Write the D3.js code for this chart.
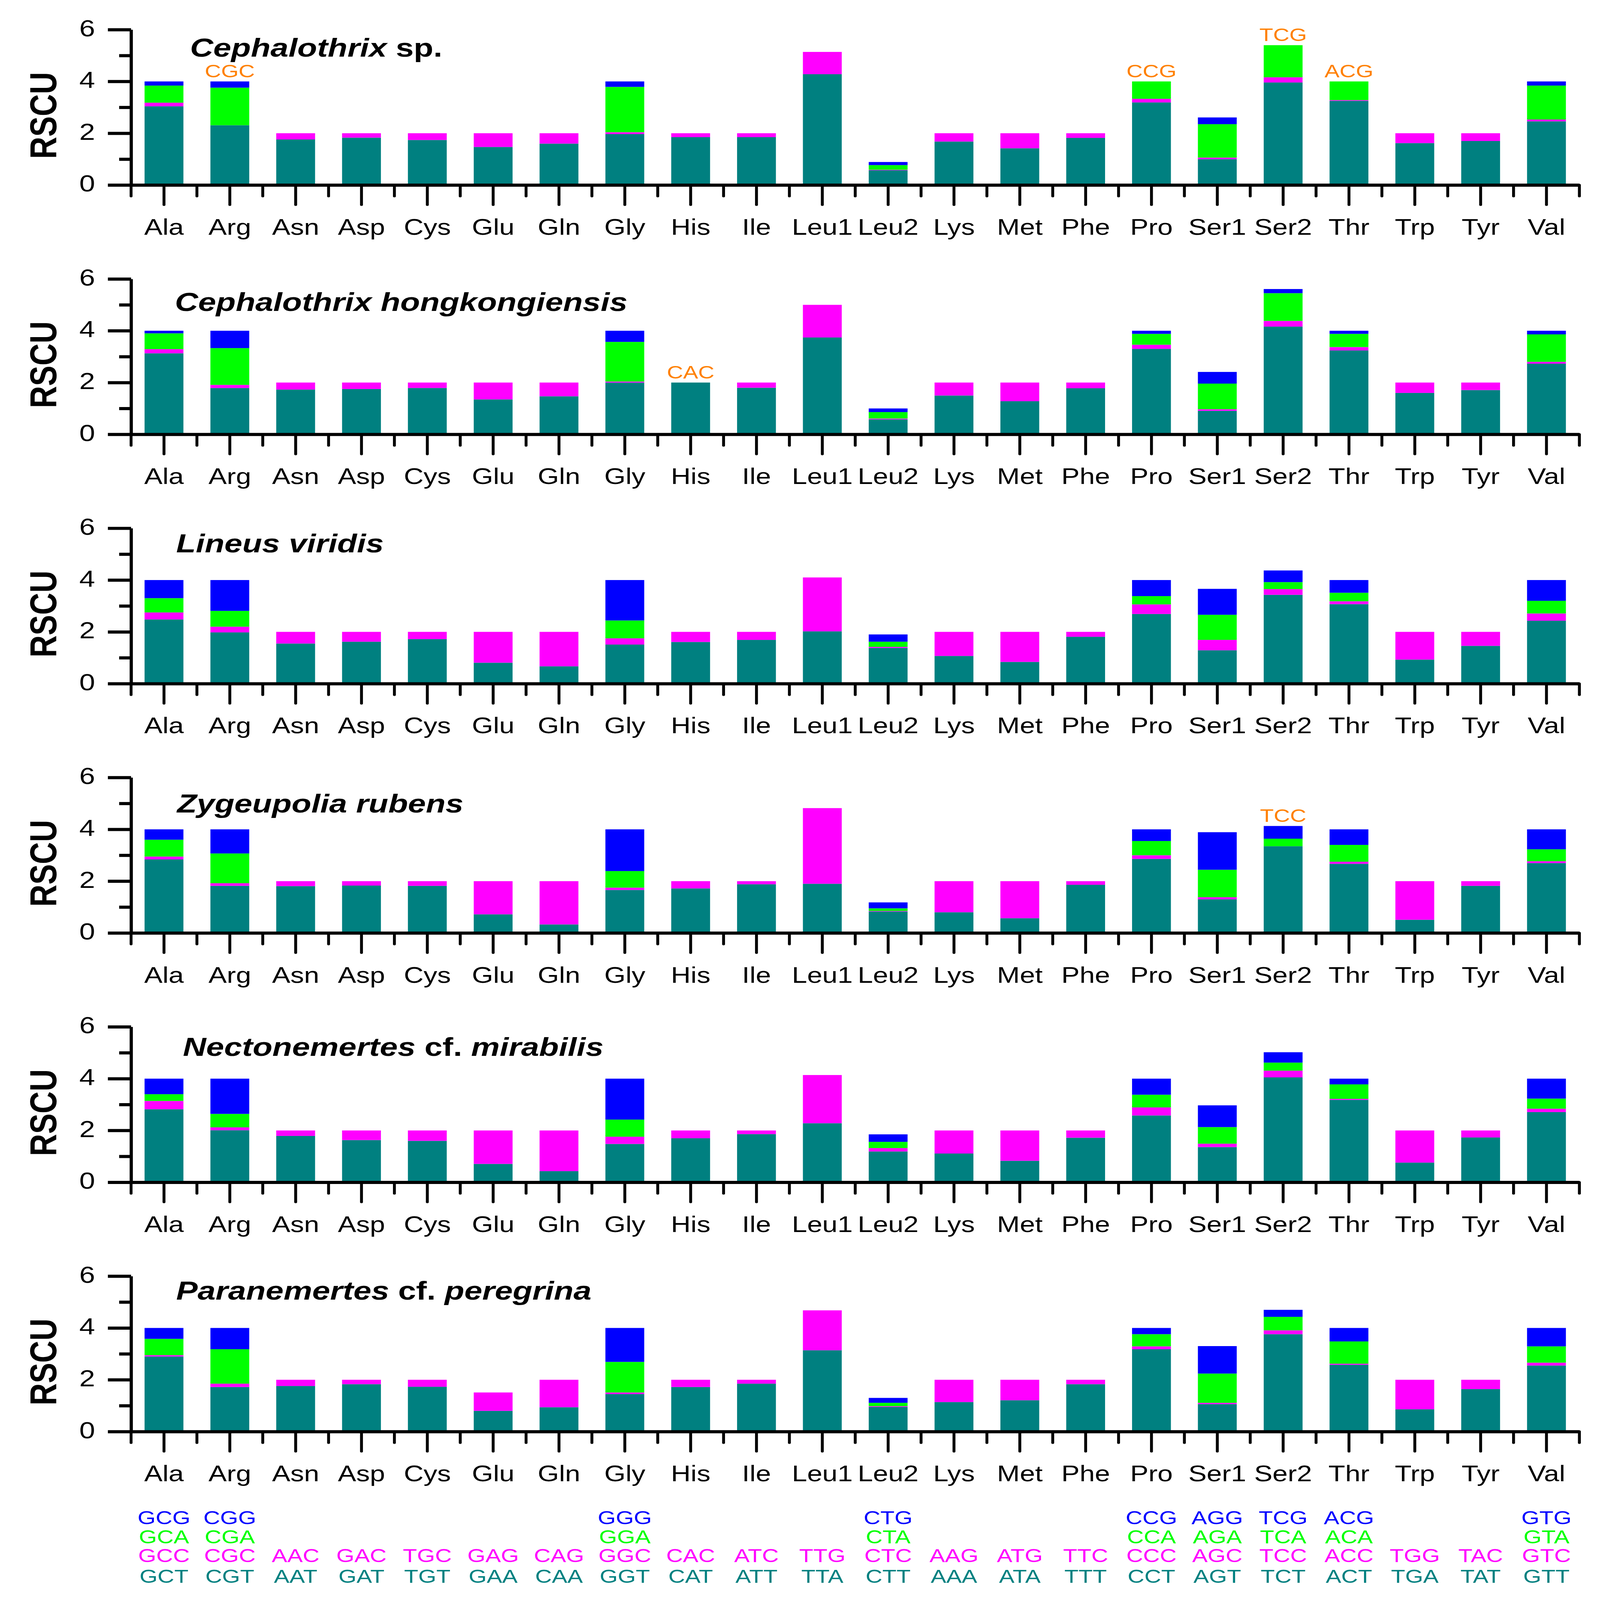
<!DOCTYPE html>
<html>
<head>
<meta charset="utf-8">
<script src="https://cdn.jsdelivr.net/npm/d3@7"></script>
<style>
	html, body { margin: 0; padding: 0; background: #fff; overflow: hidden; }
	#chart, svg { display: block; width: 100vw; height: 100vh; }
</style>
</head>
<body>
<div id="chart"></div>
<script>
// categories
const aminoAcids = ['Ala', 'Arg', 'Asn', 'Asp', 'Cys', 'Glu', 'Gln', 'Gly', 'His', 'Ile', 'Leu1',
	'Leu2', 'Lys', 'Met', 'Phe', 'Pro', 'Ser1', 'Ser2', 'Thr', 'Trp', 'Tyr', 'Val'];

// codons per stack layer (layer 1 = bottom)
const codons1 = ['GCT', 'CGT', 'AAT', 'GAT', 'TGT', 'GAA', 'CAA', 'GGT', 'CAT', 'ATT', 'TTA',
	'CTT', 'AAA', 'ATA', 'TTT', 'CCT', 'AGT', 'TCT', 'ACT', 'TGA', 'TAT', 'GTT'];
const codons2 = ['GCC', 'CGC', 'AAC', 'GAC', 'TGC', 'GAG', 'CAG', 'GGC', 'CAC', 'ATC', 'TTG',
	'CTC', 'AAG', 'ATG', 'TTC', 'CCC', 'AGC', 'TCC', 'ACC', 'TGG', 'TAC', 'GTC'];
const codons3 = ['GCA', 'CGA', '', '', '', '', '', 'GGA', '', '', '',
	'CTA', '', '', '', 'CCA', 'AGA', 'TCA', 'ACA', '', '', 'GTA'];
const codons4 = ['GCG', 'CGG', '', '', '', '', '', 'GGG', '', '', '',
	'CTG', '', '', '', 'CCG', 'AGG', 'TCG', 'ACG', '', '', 'GTG'];

// RSCU values, one array per stack layer and species
// Cephalothrix sp.
const csp1 = [3.04, 2.31, 1.76, 1.83, 1.74, 1.47, 1.60, 1.97, 1.85, 1.85, 4.28, 0.57, 1.68, 1.42, 1.82, 3.19, 1.00, 3.96, 3.25, 1.62, 1.70, 2.46];
const csp2 = [0.14, 0.00, 0.24, 0.17, 0.26, 0.53, 0.40, 0.07, 0.15, 0.15, 0.86, 0.02, 0.32, 0.58, 0.18, 0.14, 0.06, 0.20, 0.03, 0.38, 0.30, 0.07];
const csp3 = [0.66, 1.45, 0, 0, 0, 0, 0, 1.75, 0, 0, 0, 0.18, 0, 0, 0, 0.67, 1.29, 1.24, 0.72, 0, 0, 1.31];
const csp4 = [0.16, 0.24, 0, 0, 0, 0, 0, 0.21, 0, 0, 0, 0.12, 0, 0, 0, 0.00, 0.26, 0.00, 0.00, 0, 0, 0.16];
// Cephalothrix hongkongiensis
const chk1 = [3.13, 1.79, 1.73, 1.75, 1.79, 1.35, 1.47, 2.00, 2.00, 1.80, 3.74, 0.58, 1.50, 1.28, 1.78, 3.30, 0.91, 4.16, 3.24, 1.60, 1.71, 2.73];
const chk2 = [0.16, 0.12, 0.27, 0.25, 0.21, 0.65, 0.53, 0.04, 0.00, 0.20, 1.26, 0.03, 0.50, 0.72, 0.22, 0.16, 0.06, 0.22, 0.13, 0.40, 0.29, 0.07];
const chk3 = [0.61, 1.42, 0, 0, 0, 0, 0, 1.53, 0, 0, 0, 0.25, 0, 0, 0, 0.42, 0.99, 1.07, 0.51, 0, 0, 1.06];
const chk4 = [0.10, 0.67, 0, 0, 0, 0, 0, 0.43, 0, 0, 0, 0.14, 0, 0, 0, 0.12, 0.45, 0.16, 0.12, 0, 0, 0.14];
// Lineus viridis
const lvi1 = [2.48, 1.98, 1.55, 1.62, 1.72, 0.81, 0.67, 1.51, 1.61, 1.69, 2.02, 1.38, 1.07, 0.84, 1.81, 2.69, 1.29, 3.43, 3.07, 0.93, 1.46, 2.43];
const lvi2 = [0.27, 0.22, 0.45, 0.38, 0.28, 1.19, 1.33, 0.24, 0.39, 0.31, 2.08, 0.04, 0.93, 1.16, 0.19, 0.37, 0.40, 0.22, 0.11, 1.07, 0.54, 0.28];
const lvi3 = [0.55, 0.61, 0, 0, 0, 0, 0, 0.69, 0, 0, 0, 0.20, 0, 0, 0, 0.32, 0.97, 0.27, 0.33, 0, 0, 0.49];
const lvi4 = [0.70, 1.19, 0, 0, 0, 0, 0, 1.56, 0, 0, 0, 0.28, 0, 0, 0, 0.62, 1.00, 0.45, 0.49, 0, 0, 0.80];
// Zygeupolia rubens
const zru1 = [2.84, 1.82, 1.81, 1.83, 1.82, 0.72, 0.33, 1.66, 1.72, 1.88, 1.90, 0.83, 0.80, 0.57, 1.86, 2.86, 1.30, 3.35, 2.67, 0.51, 1.82, 2.70];
const zru2 = [0.11, 0.10, 0.19, 0.17, 0.18, 1.28, 1.67, 0.09, 0.28, 0.12, 2.92, 0.02, 1.20, 1.43, 0.14, 0.14, 0.08, 0.00, 0.08, 1.49, 0.18, 0.07];
const zru3 = [0.65, 1.15, 0, 0, 0, 0, 0, 0.64, 0, 0, 0, 0.10, 0, 0, 0, 0.55, 1.06, 0.29, 0.65, 0, 0, 0.46];
const zru4 = [0.40, 0.93, 0, 0, 0, 0, 0, 1.61, 0, 0, 0, 0.23, 0, 0, 0, 0.45, 1.45, 0.49, 0.60, 0, 0, 0.77];
// Nectonemertes cf. mirabilis
const nmi1 = [2.82, 2.01, 1.79, 1.63, 1.60, 0.71, 0.43, 1.48, 1.70, 1.86, 2.28, 1.19, 1.11, 0.83, 1.72, 2.58, 1.36, 4.05, 3.18, 0.76, 1.73, 2.71];
const nmi2 = [0.32, 0.11, 0.21, 0.37, 0.40, 1.29, 1.57, 0.28, 0.30, 0.14, 1.86, 0.13, 0.89, 1.17, 0.28, 0.31, 0.13, 0.26, 0.04, 1.24, 0.27, 0.13];
const nmi3 = [0.26, 0.52, 0, 0, 0, 0, 0, 0.66, 0, 0, 0, 0.24, 0, 0, 0, 0.49, 0.64, 0.31, 0.56, 0, 0, 0.39];
const nmi4 = [0.60, 1.36, 0, 0, 0, 0, 0, 1.58, 0, 0, 0, 0.29, 0, 0, 0, 0.62, 0.84, 0.40, 0.22, 0, 0, 0.77];
// Paranemertes cf. peregrina
const ppe1 = [2.90, 1.72, 1.76, 1.83, 1.73, 0.80, 0.94, 1.45, 1.72, 1.85, 3.14, 0.95, 1.14, 1.21, 1.83, 3.18, 1.06, 3.76, 2.58, 0.86, 1.64, 2.55];
const ppe2 = [0.05, 0.13, 0.24, 0.17, 0.27, 0.71, 1.06, 0.06, 0.28, 0.15, 1.54, 0.03, 0.86, 0.79, 0.17, 0.11, 0.05, 0.15, 0.04, 1.14, 0.36, 0.11];
const ppe3 = [0.63, 1.33, 0, 0, 0, 0, 0, 1.18, 0, 0, 0, 0.13, 0, 0, 0, 0.47, 1.13, 0.52, 0.86, 0, 0, 0.63];
const ppe4 = [0.42, 0.82, 0, 0, 0, 0, 0, 1.31, 0, 0, 0, 0.19, 0, 0, 0, 0.24, 1.06, 0.27, 0.52, 0, 0, 0.71];

// species titles: [text, italic]
const titles = [
	[['Cephalothrix', true], [' sp.', false]],
	[['Cephalothrix hongkongiensis', true]],
	[['Lineus viridis', true]],
	[['Zygeupolia rubens', true]],
	[['Nectonemertes', true], [' cf. ', false], ['mirabilis', true]],
	[['Paranemertes', true], [' cf. ', false], ['peregrina', true]]
];

// absent codons marked above bars: [panel, amino acid, codon]
const absentCodons = [[0, 'Arg', 'CGC'], [0, 'Pro', 'CCG'], [0, 'Ser2', 'TCG'], [0, 'Thr', 'ACG'],
	[1, 'His', 'CAC'], [3, 'Ser2', 'TCC']];

const yTicks = [0, 2, 4, 6];
const yMinorTicks = [1, 3, 5];

const Chart = {
	width: 4968,
	height: 6156,
	font: '"Liberation Sans", Arial, sans-serif',
	colors: ['#008080', '#ff00ff', '#00ff00', '#0000ff'],
	highlightColor: '#ff8000',
	keys: ['s1', 's2', 's3', 's4'],

	xLeft: 407,
	xRight: 4904,
	firstBase: 712,
	panelStep: 959.2,
	plotHeight: 598,
	titlePos: [[590, 104], [543, 123], [547, 93], [550, 134], [568, 112], [547, 91]],

	init: function() {
		const self = this;
		// the drawing is sized in a 4968x6156 user space and stretched to the window
		self.svg = d3.select('#chart').append('svg')
			.attr('viewBox', '0 0 ' + self.width + ' ' + self.height)
			.attr('preserveAspectRatio', 'none')
			.style('font-family', self.font);

		self.svg.append('rect')
			.attr('width', self.width)
			.attr('height', self.height)
			.attr('fill', '#fff');

		self.x = d3.scaleBand()
			.domain(aminoAcids)
			.range([self.xLeft, self.xRight])
			.paddingInner(0.41)
			.paddingOuter(0.205);

		var series = [
			[csp1, csp2, csp3, csp4],
			[chk1, chk2, chk3, chk4],
			[lvi1, lvi2, lvi3, lvi4],
			[zru1, zru2, zru3, zru4],
			[nmi1, nmi2, nmi3, nmi4],
			[ppe1, ppe2, ppe3, ppe4]
		];

		for (var i = 0; i < series.length; i++)
			self.drawPanel(i, series[i]);

		self.drawCodonLegend();
	},
	drawPanel: function(index, layers) {
		const self = this;
		var x = self.x;
		var base = self.firstBase + index * self.panelStep;
		var y = d3.scaleLinear().domain([0, 6]).range([base, base - self.plotHeight]);
		var g = self.svg.append('g').attr('class', 'panel');

		// build table and stack
		var rows = aminoAcids.map(function(aa, i) {
			var row = { aa: aa };
			self.keys.forEach(function(k, j) { row[k] = layers[j][i]; });
			return row;
		});
		var stacked = d3.stack().keys(self.keys)(rows);

		g.selectAll('.layer')
			.data(stacked)
			.enter().append('g')
			.attr('class', 'layer')
			.attr('fill', function(d, i) { return self.colors[i]; })
			.selectAll('rect')
			.data(function(d) { return d.filter(function(p) { return p[1] - p[0] > 0; }); })
			.enter().append('rect')
			.attr('x', function(d) { return x(d.data.aa); })
			.attr('width', x.bandwidth())
			.attr('y', function(d) { return y(d[1]); })
			.attr('height', function(d) { return y(d[0]) - y(d[1]); });

		// absent codon labels
		var totals = {};
		rows.forEach(function(r) { totals[r.aa] = r.s1 + r.s2 + r.s3 + r.s4; });
		g.selectAll('.absent')
			.data(absentCodons.filter(function(d) { return d[0] == index; }))
			.enter().append('text')
			.attr('class', 'absent')
			.attr('x', function(d) { return x(d[1]) + x.bandwidth() / 2; })
			.attr('y', function(d) { return y(totals[d[1]]) - 16; })
			.attr('text-anchor', 'middle')
			.attr('font-size', 70)
			.attr('fill', self.highlightColor)
			.text(function(d) { return d[2]; });

		// y axis
		var yAxis = g.append('g')
			.attr('transform', 'translate(' + self.xLeft + ',0)')
			.call(d3.axisLeft(y).tickValues(yTicks).tickSize(72).tickSizeOuter(0)
				.tickPadding(40).tickFormat(d3.format('d')))
			.attr('font-family', self.font)
			.attr('font-size', 88);
		yAxis.select('.domain').attr('stroke-width', 10);
		yAxis.selectAll('.tick line').attr('stroke-width', 12);
		yAxis.selectAll('.tick text').attr('dy', '0.28em');

		var yMinor = g.append('g')
			.attr('transform', 'translate(' + self.xLeft + ',0)')
			.call(d3.axisLeft(y).tickValues(yMinorTicks).tickSize(37).tickFormat(''));
		yMinor.select('.domain').remove();
		yMinor.selectAll('.tick line').attr('stroke-width', 12);

		// x axis
		var xAxis = g.append('g')
			.attr('transform', 'translate(0,' + base + ')')
			.call(d3.axisBottom(x).tickSize(76).tickSizeOuter(0).tickPadding(55))
			.attr('font-family', self.font)
			.attr('font-size', 85);
		xAxis.select('.domain').attr('stroke-width', 12);
		xAxis.selectAll('.tick line')
			.attr('stroke-width', 9)
			.attr('stroke-linecap', 'round');

		// minor ticks at category boundaries
		var step = x.step();
		var bounds = d3.range(aminoAcids.length + 1).map(function(k) { return self.xLeft + k * step; });
		g.selectAll('.minor-x')
			.data(bounds)
			.enter().append('line')
			.attr('class', 'minor-x')
			.attr('x1', function(d) { return d; })
			.attr('x2', function(d) { return d; })
			.attr('y1', base)
			.attr('y2', base + 43)
			.attr('stroke', '#000')
			.attr('stroke-width', 9)
			.attr('stroke-linecap', 'round');

		// RSCU label
		g.append('text')
			.attr('transform', 'translate(175,' + (base - 268) + ') rotate(-90)')
			.attr('text-anchor', 'middle')
			.attr('font-size', 118)
			.attr('font-weight', 'bold')
			.text('RSCU');

		// species title
		var pos = self.titlePos[index];
		var title = g.append('text')
			.attr('x', pos[0])
			.attr('y', base - self.plotHeight + pos[1])
			.attr('font-size', 100)
			.attr('font-weight', 'bold')
			.style('white-space', 'pre');
		titles[index].forEach(function(part) {
			title.append('tspan')
				.attr('font-style', part[1] ? 'italic' : 'normal')
				.text(part[0]);
		});

		self.lastBase = base;
	},
	drawCodonLegend: function() {
		const self = this;
		var x = self.x;
		var base = self.lastBase;
		var rowOffsets = [582, 502, 430, 356];
		var codonRows = [codons1, codons2, codons3, codons4];
		var legend = self.svg.append('g').attr('class', 'codon-legend');

		codonRows.forEach(function(list, r) {
			legend.append('g')
				.attr('fill', self.colors[r])
				.selectAll('text')
				.data(aminoAcids.map(function(aa, i) { return { aa: aa, codon: list[i] }; })
					.filter(function(d) { return d.codon != ''; }))
				.enter().append('text')
				.attr('x', function(d) { return x(d.aa) + x.bandwidth() / 2; })
				.attr('y', base + rowOffsets[r])
				.attr('text-anchor', 'middle')
				.attr('font-size', 72)
				.text(function(d) { return d.codon; });
		});
	}
};

Chart.init();
</script>
</body>
</html>
